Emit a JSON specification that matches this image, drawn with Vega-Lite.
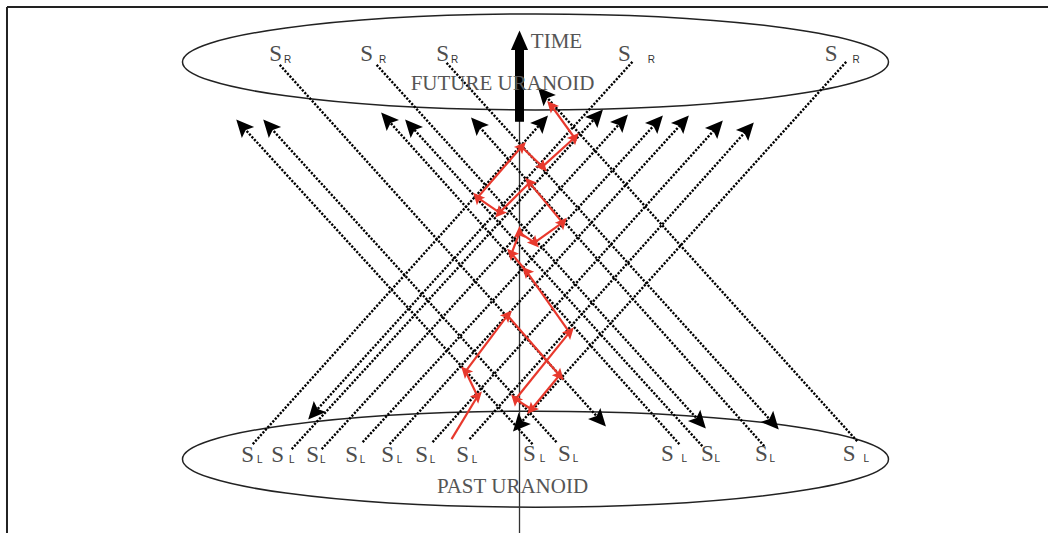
{
  "$schema": "https://vega.github.io/schema/vega-lite/v6.json",
  "width": 1049,
  "height": 534,
  "padding": 0,
  "autosize": {"type": "fit", "contains": "padding"},
  "background": "white",
  "config": {"view": {"stroke": null}},
  "datasets": {
    "frame": [
      {"x": 7, "y": 7, "x2": 1049, "y2": 7},
      {"x": 7, "y": 7, "x2": 7, "y2": 534}
    ],
    "ellipses": [
      {"name": "future", "x": 536, "y": 62},
      {"name": "past", "x": 536, "y": 460}
    ],
    "axis": [
      {"x": 520, "y": 40, "x2": 520, "y2": 534}
    ],
    "timearrow": [
      {"x": 520, "y": 122, "x2": 520, "y2": 42}
    ],
    "rays": [
      {"x": 253, "y": 445, "x2": 542, "y2": 123, "dir": "NE"},
      {"x": 292, "y": 450, "x2": 597, "y2": 117, "dir": "NE"},
      {"x": 322, "y": 450, "x2": 622, "y2": 122, "dir": "NE"},
      {"x": 363, "y": 443, "x2": 657, "y2": 123, "dir": "NE"},
      {"x": 390, "y": 445, "x2": 683, "y2": 123, "dir": "NE"},
      {"x": 433, "y": 443, "x2": 717, "y2": 128, "dir": "NE"},
      {"x": 470, "y": 440, "x2": 748, "y2": 130, "dir": "NE"},
      {"x": 533, "y": 445, "x2": 243, "y2": 127, "dir": "NW"},
      {"x": 557, "y": 443, "x2": 270, "y2": 127, "dir": "NW"},
      {"x": 680, "y": 445, "x2": 388, "y2": 120, "dir": "NW"},
      {"x": 703, "y": 447, "x2": 412, "y2": 127, "dir": "NW"},
      {"x": 765, "y": 447, "x2": 478, "y2": 125, "dir": "NW"},
      {"x": 858, "y": 442, "x2": 545, "y2": 95, "dir": "NW"},
      {"x": 280, "y": 65, "x2": 600, "y2": 420, "dir": "SE"},
      {"x": 377, "y": 65, "x2": 700, "y2": 422, "dir": "SE"},
      {"x": 447, "y": 63, "x2": 773, "y2": 423, "dir": "SE"},
      {"x": 633, "y": 62, "x2": 315, "y2": 413, "dir": "SW"},
      {"x": 847, "y": 62, "x2": 520, "y2": 425, "dir": "SW"}
    ],
    "redpath": [
      {"x": 452, "y": 440, "x2": 478, "y2": 397, "dir": "NE"},
      {"x": 478, "y": 397, "x2": 466, "y2": 372, "dir": "NW"},
      {"x": 466, "y": 372, "x2": 508, "y2": 316, "dir": "NE"},
      {"x": 508, "y": 316, "x2": 560, "y2": 376, "dir": "SE"},
      {"x": 560, "y": 376, "x2": 532, "y2": 410, "dir": "SW"},
      {"x": 532, "y": 410, "x2": 516, "y2": 400, "dir": "NW"},
      {"x": 516, "y": 400, "x2": 570, "y2": 333, "dir": "NE"},
      {"x": 570, "y": 333, "x2": 527, "y2": 272, "dir": "NW"},
      {"x": 527, "y": 272, "x2": 512, "y2": 254, "dir": "NW"},
      {"x": 512, "y": 254, "x2": 520, "y2": 233, "dir": "N"},
      {"x": 520, "y": 233, "x2": 535, "y2": 243, "dir": "SE"},
      {"x": 535, "y": 243, "x2": 563, "y2": 223, "dir": "NE"},
      {"x": 563, "y": 223, "x2": 530, "y2": 183, "dir": "NW"},
      {"x": 530, "y": 183, "x2": 500, "y2": 213, "dir": "SW"},
      {"x": 500, "y": 213, "x2": 478, "y2": 198, "dir": "NW"},
      {"x": 478, "y": 198, "x2": 522, "y2": 147, "dir": "NE"},
      {"x": 522, "y": 147, "x2": 543, "y2": 167, "dir": "SE"},
      {"x": 543, "y": 167, "x2": 575, "y2": 138, "dir": "NE"},
      {"x": 575, "y": 138, "x2": 552, "y2": 106, "dir": "NW"}
    ],
    "labels": [
      {"x": 276, "y": 54, "sx": 288, "sy": 60, "sub": "R"},
      {"x": 367, "y": 54, "sx": 383, "sy": 60, "sub": "R"},
      {"x": 443, "y": 54, "sx": 455, "sy": 60, "sub": "R"},
      {"x": 625, "y": 54, "sx": 652, "sy": 60, "sub": "R"},
      {"x": 832, "y": 54, "sx": 857, "sy": 60, "sub": "R"},
      {"x": 248, "y": 456, "sx": 260, "sy": 461, "sub": "L"},
      {"x": 278, "y": 456, "sx": 292, "sy": 461, "sub": "L"},
      {"x": 313, "y": 456, "sx": 323, "sy": 461, "sub": "L"},
      {"x": 352, "y": 456, "sx": 363, "sy": 461, "sub": "L"},
      {"x": 388, "y": 456, "sx": 400, "sy": 461, "sub": "L"},
      {"x": 422, "y": 456, "sx": 433, "sy": 461, "sub": "L"},
      {"x": 463, "y": 456, "sx": 475, "sy": 461, "sub": "L"},
      {"x": 530, "y": 455, "sx": 543, "sy": 460, "sub": "L"},
      {"x": 565, "y": 455, "sx": 576, "sy": 460, "sub": "L"},
      {"x": 668, "y": 455, "sx": 685, "sy": 460, "sub": "L"},
      {"x": 708, "y": 455, "sx": 718, "sy": 460, "sub": "L"},
      {"x": 762, "y": 455, "sx": 773, "sy": 460, "sub": "L"},
      {"x": 850, "y": 455, "sx": 867, "sy": 460, "sub": "L"}
    ],
    "titles": [
      {"x": 557, "y": 42, "label": "TIME"},
      {"x": 503, "y": 84, "label": "FUTURE URANOID"},
      {"x": 513, "y": 488, "label": "PAST URANOID"}
    ]
  },
  "layer": [
    {
      "data": {"name": "ellipses"},
      "mark": {
        "type": "point",
        "shape": "M -1 0 C -1 -0.0751 -0.5523 -0.136 0 -0.136 C 0.5523 -0.136 1 -0.0751 1 0 C 1 0.0751 0.5523 0.136 0 0.136 C -0.5523 0.136 -1 0.0751 -1 0 Z",
        "size": 498436,
        "filled": false,
        "stroke": "#222222",
        "strokeWidth": 1.5,
        "opacity": 1
      },
      "encoding": {
        "x": {"field": "x", "type": "quantitative", "scale": {"domain": [0, 1049], "nice": false, "zero": false}, "axis": null},
        "y": {"field": "y", "type": "quantitative", "scale": {"domain": [0, 534], "nice": false, "zero": false, "reverse": true}, "axis": null}
      }
    },
    {
      "data": {"name": "frame"},
      "mark": {"type": "rule", "stroke": "#222222", "strokeWidth": 2},
      "encoding": {
        "x": {"field": "x", "type": "quantitative"},
        "y": {"field": "y", "type": "quantitative"},
        "x2": {"field": "x2"},
        "y2": {"field": "y2"}
      }
    },
    {
      "data": {"name": "axis"},
      "mark": {"type": "rule", "stroke": "#333333", "strokeWidth": 1.3},
      "encoding": {
        "x": {"field": "x", "type": "quantitative"},
        "y": {"field": "y", "type": "quantitative"},
        "x2": {"field": "x2"},
        "y2": {"field": "y2"}
      }
    },
    {
      "data": {"name": "rays"},
      "mark": {"type": "rule", "stroke": "#000000", "strokeWidth": 2.4, "strokeDash": [2.2, 1.5]},
      "encoding": {
        "x": {"field": "x", "type": "quantitative"},
        "y": {"field": "y", "type": "quantitative"},
        "x2": {"field": "x2"},
        "y2": {"field": "y2"}
      }
    },
    {
      "data": {"name": "redpath"},
      "mark": {"type": "rule", "stroke": "#e8382c", "strokeWidth": 2.2},
      "encoding": {
        "x": {"field": "x", "type": "quantitative"},
        "y": {"field": "y", "type": "quantitative"},
        "x2": {"field": "x2"},
        "y2": {"field": "y2"}
      }
    },
    {
      "data": {"name": "rays"},
      "mark": {"type": "point", "shape": "M 0 -1 L 0.85 0.8 L 0 0.45 L -0.85 0.8 Z", "size": 380, "filled": true, "color": "#000000", "opacity": 1},
      "encoding": {
        "x": {"field": "x2", "type": "quantitative"},
        "y": {"field": "y2", "type": "quantitative"},
        "angle": {"field": "dir", "type": "nominal", "scale": {"type": "ordinal", "domain": ["N", "NE", "SE", "SW", "NW"], "range": [0, 42, 138, 222, 318]}, "legend": null}
      }
    },
    {
      "data": {"name": "redpath"},
      "mark": {"type": "point", "shape": "M 0 -1 L 0.85 0.8 L 0 0.45 L -0.85 0.8 Z", "size": 170, "filled": true, "color": "#e8382c", "opacity": 1},
      "encoding": {
        "x": {"field": "x2", "type": "quantitative"},
        "y": {"field": "y2", "type": "quantitative"},
        "angle": {"field": "dir", "type": "nominal", "scale": {"type": "ordinal", "domain": ["N", "NE", "SE", "SW", "NW"], "range": [0, 42, 138, 222, 318]}, "legend": null}
      }
    },
    {
      "data": {"name": "timearrow"},
      "mark": {"type": "rule", "stroke": "#000000", "strokeWidth": 9},
      "encoding": {
        "x": {"field": "x", "type": "quantitative"},
        "y": {"field": "y", "type": "quantitative"},
        "x2": {"field": "x2"},
        "y2": {"field": "y2"}
      }
    },
    {
      "data": {"name": "timearrow"},
      "mark": {"type": "point", "shape": "M 0 -1 L 0.75 0.7 L -0.75 0.7 Z", "size": 520, "filled": true, "color": "#000000", "opacity": 1},
      "encoding": {
        "x": {"field": "x2", "type": "quantitative"},
        "y": {"field": "y2", "type": "quantitative"}
      }
    },
    {
      "data": {"name": "labels"},
      "mark": {"type": "text", "font": "Liberation Serif", "fontSize": 23, "fill": "#4d4d4d", "align": "center", "baseline": "middle"},
      "encoding": {
        "x": {"field": "x", "type": "quantitative"},
        "y": {"field": "y", "type": "quantitative"},
        "text": {"value": "S"}
      }
    },
    {
      "data": {"name": "labels"},
      "mark": {"type": "text", "font": "Liberation Sans", "fontSize": 10, "fill": "#333333", "align": "center", "baseline": "middle"},
      "encoding": {
        "x": {"field": "sx", "type": "quantitative"},
        "y": {"field": "sy", "type": "quantitative"},
        "text": {"field": "sub"}
      }
    },
    {
      "data": {"name": "titles"},
      "mark": {"type": "text", "font": "Liberation Serif", "fontSize": 21, "fill": "#555555", "align": "center", "baseline": "middle"},
      "encoding": {
        "x": {"field": "x", "type": "quantitative"},
        "y": {"field": "y", "type": "quantitative"},
        "text": {"field": "label"}
      }
    }
  ]
}
